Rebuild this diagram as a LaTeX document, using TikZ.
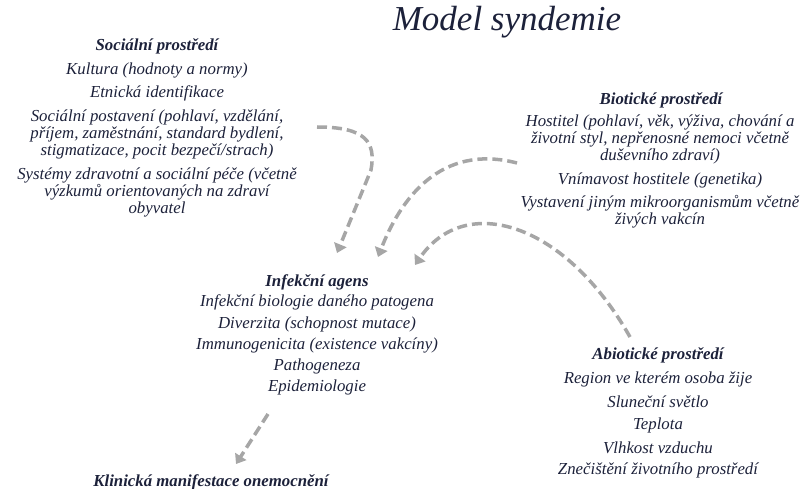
\documentclass[tikz,border=0pt]{standalone}
\usepackage{fontspec}
\setmainfont{Liberation Serif}
\usetikzlibrary{arrows.meta}
\definecolor{ink}{RGB}{28,33,58}
\definecolor{arr}{RGB}{166,166,166}
\begin{document}
\begin{tikzpicture}[x=1pt,y=-1pt,
  txt/.style={font=\itshape\fontsize{16.8}{17}\selectfont,text=ink,align=center,inner sep=0pt},
  hd/.style={font=\bfseries\itshape\fontsize{16.8}{17}\selectfont,text=ink,align=center,inner sep=0pt},
  conn/.style={draw=arr,line width=3.5pt,dash pattern=on 10pt off 5pt,-{Triangle[width=13pt,length=9pt]}}]
\useasboundingbox (0,0) rectangle (811,489);
\node[text=ink,font=\itshape\fontsize{35}{38}\selectfont,inner sep=0pt] (title) at (507,22) {Model syndemie};
% social
\node[hd] (soc) at (157,46) {Sociální prostředí};
\node[txt] (s1) at (157,70) {Kultura (hodnoty a normy)};
\node[txt] (s2) at (157,93) {Etnická identifikace};
\node[txt] (s3) at (157,134) {Sociální postavení (pohlaví, vzdělání,\\příjem, zaměstnání, standard bydlení,\\stigmatizace, pocit bezpečí/strach)};
\node[txt] (s4) at (157,192) {Systémy zdravotní a sociální péče (včetně\\výzkumů orientovaných na zdraví\\obyvatel};
% biotic
\node[hd] (bio) at (661,100) {Biotické prostředí};
\node[txt] (b1) at (660,139) {Hostitel (pohlaví, věk, výživa, chování a\\životní styl, nepřenosné nemoci včetně\\duševního zdraví)};
\node[txt] (b2) at (660,180) {Vnímavost hostitele (genetika)};
\node[txt] (b3) at (660,212) {Vystavení jiným mikroorganismům včetně\\živých vakcín};
% infection
\node[hd] (inf) at (317,282) {Infekční agens};
\node[txt] (i1) at (317,302) {Infekční biologie daného patogena};
\node[txt] (i2) at (317,324) {Diverzita (schopnost mutace)};
\node[txt] (i3) at (317,345) {Immunogenicita (existence vakcíny)};
\node[txt] (i4) at (317,366) {Pathogeneza};
\node[txt] (i5) at (317,387) {Epidemiologie};
% abiotic
\node[hd] (abi) at (658,355) {Abiotické prostředí};
\node[txt] (a1) at (658,379) {Region ve kterém osoba žije};
\node[txt] (a2) at (658,402) {Sluneční světlo};
\node[txt] (a3) at (658,425) {Teplota};
\node[txt] (a4) at (658,448) {Vlhkost vzduchu};
\node[txt] (a5) at (658,470) {Znečištění životního prostředí};
% clinical
\node[hd] (kl) at (211,482) {Klinická manifestace onemocnění};
% connector ends
\coordinate (c1s) at (317,127);
\coordinate (c1e) at (337,253);
\coordinate (c2s) at (517,163);
\coordinate (c2e) at (378,257);
\coordinate (c3s) at (630,337);
\coordinate (c3e) at (415,265);
\coordinate (c4s) at (268,414);
\coordinate (c4e) at (236,464);
\draw[conn] (c1s) .. controls (366,127) and (376,142) .. (371,170) -- (c1e);
\draw[conn] (c2s) .. controls (440,143) and (400,200) .. (c2e);
\draw[conn] (c3s) .. controls (565,222) and (465,192) .. (c3e);
\draw[conn] (c4s) -- (c4e);
\end{tikzpicture}
\end{document}
